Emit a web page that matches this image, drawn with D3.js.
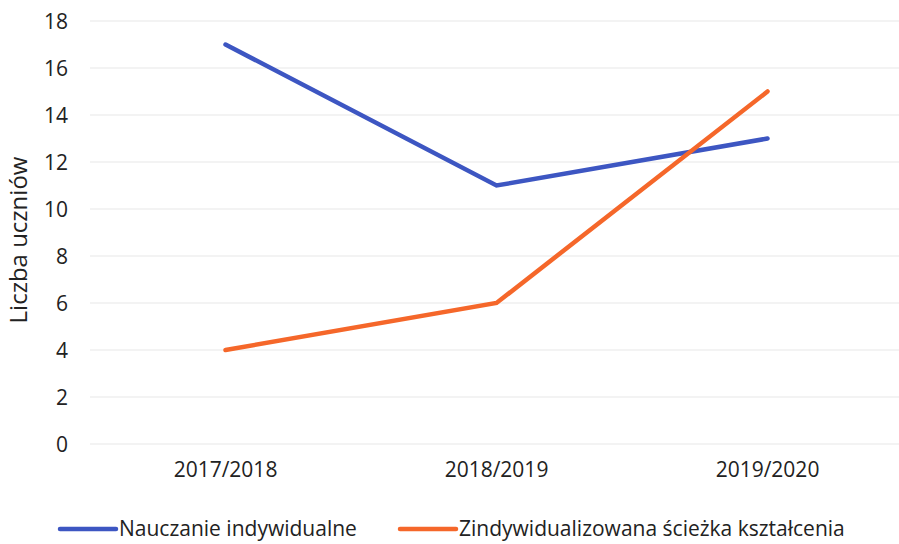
<!DOCTYPE html>
<html><head><meta charset="utf-8">
<script src="https://d3js.org/d3.v7.min.js"></script>
<style>body{margin:0;background:#fff}svg{display:block}text{font-family:"Open Sans","Noto Sans",sans-serif;fill:#222}</style>
</head><body><svg id="c" width="899" height="544"></svg>
<script>
const categories = ["2017/2018", "2018/2019", "2019/2020"];
const indywidualne = [17, 11, 13];
const sciezka = [4, 6, 15];
const yTicks = [0, 2, 4, 6, 8, 10, 12, 14, 16, 18];
const seriesNames = ["Nauczanie indywidualne", "Zindywidualizowana ścieżka kształcenia"];
const colors = ["#3d56c2", "#f5672a"];

const svg = d3.select("#c");
const x = d3.scaleBand().domain(categories).range([90, 903]);
const y = d3.scaleLinear().domain([0, 18]).range([444, 21]);

// grid
svg.append("g").selectAll("line").data(yTicks).join("line")
  .attr("x1", 90).attr("x2", 899)
  .attr("y1", d => y(d)).attr("y2", d => y(d))
  .attr("stroke", "#efefef").attr("stroke-width", 1.5);

// y axis
const ya = svg.append("g").attr("transform", "translate(68,0)")
  .call(d3.axisLeft(y).tickValues(yTicks).tickSize(0).tickPadding(0));
ya.select(".domain").remove();
ya.selectAll("text").attr("font-size", 21).attr("fill", "#222").attr("dy", "0.34em")
  .style("font-family", '"Open Sans","Noto Sans",sans-serif');

// x axis
const xa = svg.append("g").attr("transform", "translate(0,462)")
  .call(d3.axisBottom(x).tickSize(0).tickPadding(0));
xa.select(".domain").remove();
xa.selectAll("text").attr("font-size", 21).attr("fill", "#222")
  .style("font-family", '"Open Sans","Noto Sans",sans-serif');

// y title
svg.append("text").attr("transform", "translate(27,240) rotate(-90)")
  .attr("text-anchor", "middle").attr("font-size", 24).text("Liczba uczniów");

const line = d3.line().x((d, i) => x(categories[i]) + x.bandwidth() / 2).y(d => y(d));
[indywidualne, sciezka].forEach((s, i) => {
  svg.append("path").datum(s).attr("d", line).attr("fill", "none")
    .attr("stroke", colors[i]).attr("stroke-width", 4.5).attr("stroke-linecap", "round");
});

// legend
const legX = [60, 400];
seriesNames.forEach((n, i) => {
  svg.append("line").attr("x1", legX[i]).attr("x2", legX[i] + 56)
    .attr("y1", 529).attr("y2", 529).attr("stroke", colors[i]).attr("stroke-width", 4.5).attr("stroke-linecap", "round");
  svg.append("text").attr("x", legX[i] + 59).attr("y", 536).attr("font-size", 21).text(n);
});
</script></body></html>
